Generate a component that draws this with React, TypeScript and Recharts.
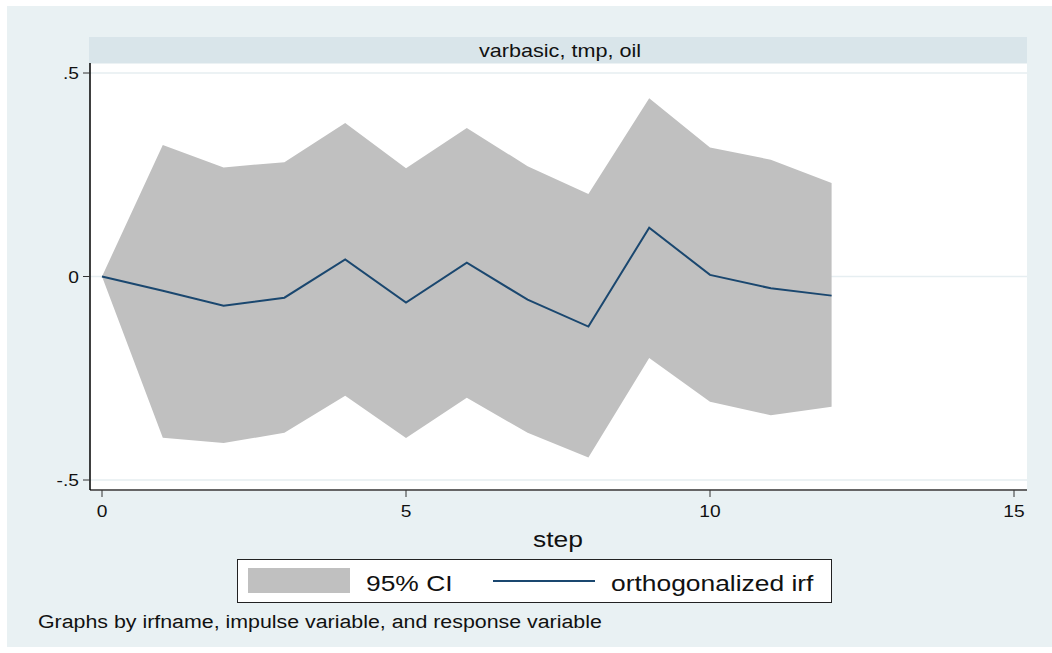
import React from 'react';
import { ComposedChart, Area, Line, XAxis, YAxis, CartesianGrid } from 'recharts';

const STEPS = [0, 1, 2, 3, 4, 5, 6, 7, 8, 9, 10, 11, 12];
const IRF = [0, -0.035, -0.072, -0.052, 0.042, -0.064, 0.034, -0.057, -0.123, 0.12, 0.004, -0.029, -0.047];
const UPPER = [0, 0.323, 0.268, 0.281, 0.377, 0.266, 0.365, 0.271, 0.203, 0.438, 0.317, 0.287, 0.23];
const LOWER = [0, -0.396, -0.409, -0.384, -0.293, -0.397, -0.298, -0.384, -0.445, -0.2, -0.308, -0.341, -0.32];

const X_TICKS = [0, 5, 10, 15];
const Y_TICKS = [-0.5, 0, 0.5];
const Y_LABELS: Record<string, string> = { '-0.5': '-.5', '0': '0', '0.5': '.5' };

const TITLE = 'varbasic, tmp, oil';
const X_LABEL = 'step';
const FOOTER = 'Graphs by irfname, impulse variable, and response variable';
const CI_NAME = '95% CI';
const IRF_NAME = 'orthogonalized irf';

const BG = '#e9f1f3';
const STRIP = '#d9e5ea';
const CI_COLOR = '#c0c0c0';
const LINE_COLOR = '#1a476f';
const FONT = '"Liberation Sans", Arial, sans-serif';

const data = STEPS.map((s, i) => ({ step: s, lower: LOWER[i], upper: UPPER[i], irf: IRF[i] }));

// stata export is stretched horizontally, so text gets a scaleX
function SText({ x, y, size, anchor = 'start', children }: any) {
  return (
    <text
      transform={`translate(${x} ${y}) scale(1.2 1)`}
      textAnchor={anchor}
      fontSize={size}
      fontFamily={FONT}
      fill="#111"
    >
      {children}
    </text>
  );
}

const XTick = (props: any) => {
  const { x, y, payload } = props;
  return <SText x={x} y={y + 20} size={16} anchor="middle">{payload.value}</SText>;
};

const YTick = (props: any) => {
  const { x, y, payload } = props;
  return <SText x={x} y={y + 6} size={16} anchor="end">{Y_LABELS[String(payload.value)]}</SText>;
};

export default function App() {
  return (
    <div style={{ position: 'fixed', left: 0, top: 0, width: 1052, height: 653, background: '#fff', fontFamily: FONT }}>
      <div style={{ position: 'absolute', left: 7, top: 6, width: 1045, height: 641, background: BG }} />
      <div style={{ position: 'absolute', left: 0, top: 0 }}>
        <ComposedChart width={1052} height={653} data={data} margin={{ top: 63, right: 25, bottom: 133, left: 0 }}>
          <CartesianGrid horizontal vertical={false} stroke="#e6eef1" strokeWidth={1.5} fill="#fff" fillOpacity={1} />
          <XAxis
            type="number"
            dataKey="step"
            domain={[0, 15]}
            ticks={X_TICKS}
            padding={{ left: 12, right: 13 }}
            height={30}
            tickSize={7}
            tickMargin={0}
            axisLine={{ stroke: '#666', strokeWidth: 2 }}
            tickLine={{ stroke: '#333' }}
            tick={XTick}
          />
          <YAxis
            type="number"
            domain={[-0.5, 0.5]}
            ticks={Y_TICKS}
            padding={{ top: 10, bottom: 10 }}
            width={90}
            tickSize={7}
            tickMargin={4}
            axisLine={{ stroke: '#000', strokeWidth: 1.5 }}
            tickLine={{ stroke: '#333' }}
            tick={YTick}
          />
          <Area
            type="linear"
            dataKey={(d: any) => [d.lower, d.upper]}
            name={CI_NAME}
            fill={CI_COLOR}
            fillOpacity={1}
            stroke="none"
            dot={false}
            activeDot={false}
            isAnimationActive={false}
          />
          <Line
            type="linear"
            dataKey="irf"
            name={IRF_NAME}
            stroke={LINE_COLOR}
            strokeWidth={2}
            dot={false}
            activeDot={false}
            isAnimationActive={false}
          />
        </ComposedChart>
      </div>
      <svg width={1052} height={653} style={{ position: 'absolute', left: 0, top: 0, pointerEvents: 'none' }}>
        {/* header strip */}
        <rect x={89} y={37} width={938} height={26} fill={STRIP} />
        <SText x={560} y={57} size={18} anchor="middle">{TITLE}</SText>
        {/* x title */}
        <SText x={558} y={547} size={22} anchor="middle">{X_LABEL}</SText>
        {/* legend */}
        <rect x={237.5} y={559.5} width={594} height={43} fill="#fff" stroke="#222" strokeWidth={1} />
        <rect x={248} y={568} width={102} height={25} fill={CI_COLOR} />
        <SText x={366} y={591} size={22}>{CI_NAME}</SText>
        <line x1={493} x2={595} y1={581} y2={581} stroke={LINE_COLOR} strokeWidth={2} />
        <SText x={611} y={591} size={22}>{IRF_NAME}</SText>
        {/* note */}
        <SText x={38} y={628} size={17.8}>{FOOTER}</SText>
      </svg>
    </div>
  );
}
